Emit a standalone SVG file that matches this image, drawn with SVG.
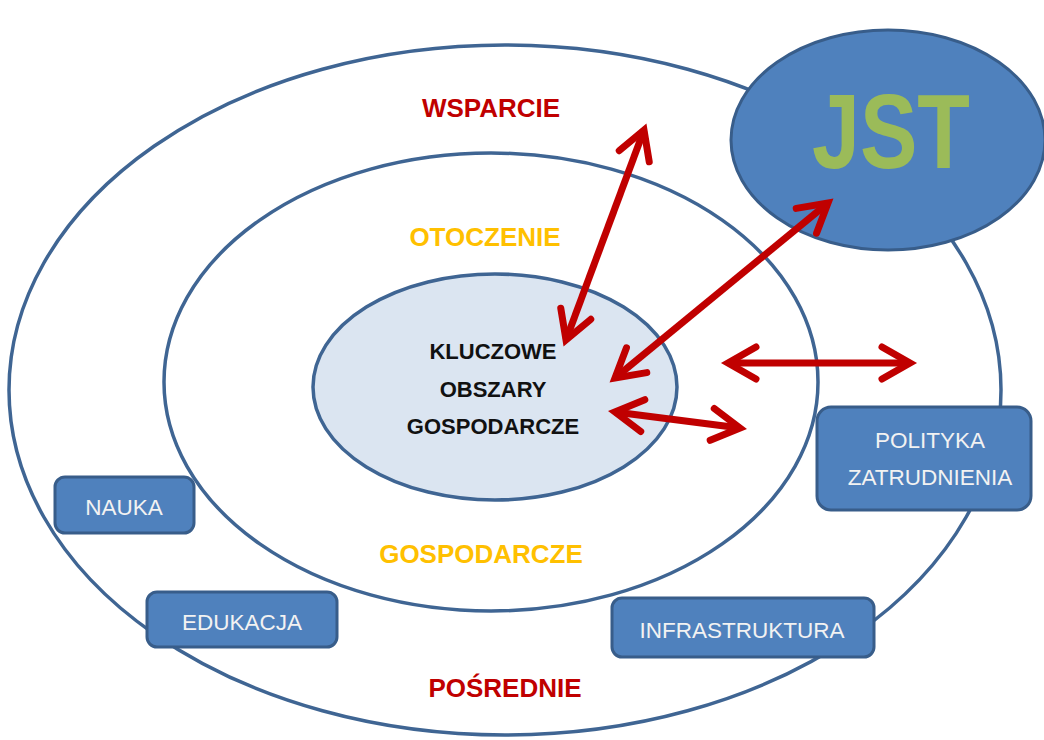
<svg xmlns="http://www.w3.org/2000/svg" width="1044" height="740" viewBox="0 0 1044 740">
<style>
.ring{fill:#ffffff;stroke:#3f6593;stroke-width:3.5}
.box{fill:#4f81bd;stroke:#385d8a;stroke-width:3}
.btxt{font-family:"Liberation Sans",Arial,sans-serif;font-size:22.5px;fill:#f2f2f2;text-anchor:middle}
.lbl{font-family:"Liberation Sans",Arial,sans-serif;font-size:26px;font-weight:bold;text-anchor:middle}
.red{fill:#c00000}
.yel{fill:#ffc000}
.core{font-family:"Liberation Sans",Arial,sans-serif;font-size:22px;font-weight:bold;fill:#111111;text-anchor:middle}
.arr{stroke:#c00000;stroke-width:7;fill:none;marker-start:url(#head);marker-end:url(#head)}
</style>
<defs>
<marker id="head" markerUnits="userSpaceOnUse" markerWidth="60" markerHeight="60" refX="0" refY="0" viewBox="-40 -30 50 60" orient="auto-start-reverse" overflow="visible">
<path d="M-28,-16 L0,0 L-28,16" fill="none" stroke="#c00000" stroke-width="7" stroke-linecap="round" stroke-linejoin="miter"/>
</marker>
</defs>
<rect width="1044" height="740" fill="#ffffff"/>
<g id="outer">
<ellipse class="ring" cx="505" cy="390" rx="496" ry="345"/>
</g>
<g id="middle">
<ellipse class="ring" cx="491" cy="382" rx="327" ry="229"/>
</g>
<g id="core">
<ellipse cx="495" cy="387" rx="182" ry="113" fill="#dbe5f1" stroke="#3f6593" stroke-width="3.5"/>
<text class="core" x="493" y="359">KLUCZOWE</text>
<text class="core" x="493" y="397">OBSZARY</text>
<text class="core" x="493" y="434">GOSPODARCZE</text>
</g>
<g id="jst">
<ellipse cx="888" cy="140" rx="157" ry="110" fill="#4f81bd" stroke="#385d8a" stroke-width="3"/>
<text x="891" y="168" font-family="'Liberation Sans',Arial,sans-serif" font-size="105" font-weight="bold" fill="#9bbb59" text-anchor="middle" textLength="158" lengthAdjust="spacingAndGlyphs">JST</text>
</g>
<g id="labels">
<text class="lbl red" x="491" y="117">WSPARCIE</text>
<text class="lbl yel" x="485" y="246">OTOCZENIE</text>
<text class="lbl yel" x="481" y="563">GOSPODARCZE</text>
<text class="lbl red" x="505" y="697">POŚREDNIE</text>
</g>
<g id="nauka">
<rect class="box" x="55" y="477" width="139" height="56" rx="10"/>
<text class="btxt" x="124" y="515">NAUKA</text>
</g>
<g id="edukacja">
<rect class="box" x="147" y="592" width="190" height="55" rx="10"/>
<text class="btxt" x="242" y="630">EDUKACJA</text>
</g>
<g id="infrastruktura">
<rect class="box" x="612" y="598" width="262" height="59" rx="10"/>
<text class="btxt" x="742" y="638">INFRASTRUKTURA</text>
</g>
<g id="polityka">
<rect class="box" x="817" y="407" width="214" height="103" rx="14"/>
<text class="btxt" x="930" y="448">POLITYKA</text>
<text class="btxt" x="930" y="485">ZATRUDNIENIA</text>
</g>
<g id="connectors">
<line class="arr" x1="566" y1="340" x2="644" y2="130"/>
<line class="arr" x1="615" y1="378" x2="828" y2="203"/>
<line class="arr" x1="615" y1="412" x2="740" y2="428"/>
<line class="arr" x1="728" y1="363" x2="910" y2="363"/>
</g>
</svg>
